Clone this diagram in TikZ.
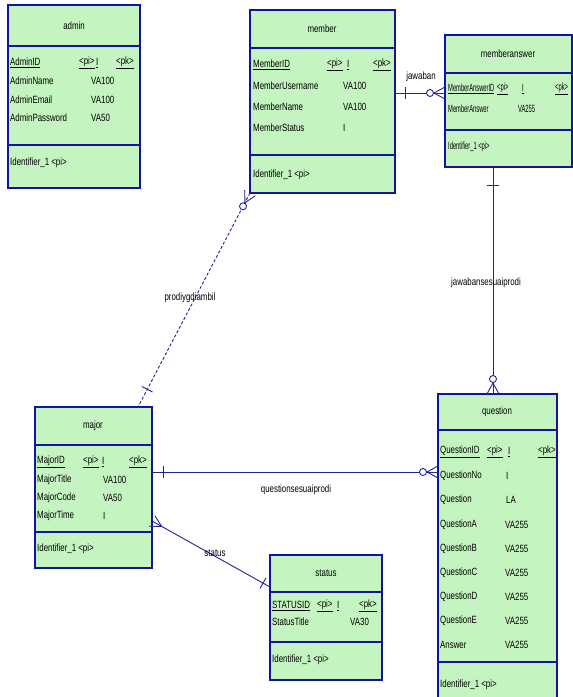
\documentclass[tikz,border=0pt]{standalone}
\usepackage{fontspec}
\setmainfont{Liberation Sans}[FakeStretch=0.75]
\newfontfamily\narrowfont{Liberation Sans}[FakeStretch=0.55]
\usetikzlibrary{calc}
\definecolor{entfill}{RGB}{196,245,192}
\definecolor{entdraw}{RGB}{20,20,160}
\definecolor{relcol}{RGB}{35,35,150}
\tikzset{
 ent/.style={draw=entdraw, fill=entfill, line width=1.2pt, anchor=north west, inner sep=0pt, outer sep=0pt},
 entline/.style={draw=entdraw, line width=1.2pt},
 txt/.style={anchor=west, inner sep=0pt, font=\fontsize{10.5}{12}\selectfont},
 ntxt/.style={anchor=west, inner sep=0pt, font=\narrowfont\fontsize{10.5}{12}\selectfont},
 ttl/.style={inner sep=0pt, font=\fontsize{10.5}{12}\selectfont},
 rel/.style={draw=relcol, line width=0.9pt},
 dashrel/.style={rel, dash pattern=on 3pt off 2pt},
 lbl/.style={inner sep=0pt, font=\fontsize{10.5}{12}\selectfont},
}
\newcommand{\mycrow}[2]{%
 \draw[rel] ($(#1)!11pt!(#2)$) -- ($(#1)!6pt!90:(#2)$);
 \draw[rel] ($(#1)!11pt!(#2)$) -- ($(#1)!6pt!-90:(#2)$);}
\newcommand{\mycrowo}[2]{\mycrow{#1}{#2}\draw[rel, fill=white] ($(#1)!15pt!(#2)$) circle (3.5pt);}
\newcommand{\mybarmark}[3]{\draw[rel] ($(#1)!#3pt!(#2)!6pt!90:(#2)$) -- ($(#1)!#3pt!(#2)!6pt!-90:(#2)$);}
\newcommand{\pk}{\underline{<pk>}}
\newcommand{\pii}{\underline{<pi>}}
\begin{document}
\begin{tikzpicture}[x=1pt,y=-1pt]
\useasboundingbox (0,0) rectangle (573,697);
\fill[white] (0,0) rectangle (573,697);

% ---------- admin ----------
\node[ent, minimum width=132, minimum height=183] (admin) at (8,5) {};
\draw[entline] (admin.west |- 0,46) -- (admin.east |- 0,46);
\draw[entline] (admin.west |- 0,145) -- (admin.east |- 0,145);
\node[ttl] (admint) at (74,26) {admin};
\node[txt] (admin1a) at (10,63) {\underline{AdminID}};
\node[txt] (admin1b) at (79,63) {\pii};
\node[txt] (admin1c) at (96,63) {\underline{I}};
\node[txt] (admin1d) at (116,63) {\pk};
\node[txt] (admin2a) at (10,81) {AdminName};
\node[txt] (admin2b) at (91,81) {VA100};
\node[txt] (admin3a) at (10,100) {AdminEmail};
\node[txt] (admin3b) at (91,100) {VA100};
\node[txt] (admin4a) at (10,118) {AdminPassword};
\node[txt] (admin4b) at (91,118) {VA50};
\node[txt] (admini) at (10,163) {Identifier\_1 <pi>};

% ---------- member ----------
\node[ent, minimum width=145, minimum height=183] (member) at (250,10) {};
\draw[entline] (member.west |- 0,48) -- (member.east |- 0,48);
\draw[entline] (member.west |- 0,155) -- (member.east |- 0,155);
\node[ttl] (membert) at (322,29) {member};
\node[txt] (member1a) at (253,65) {\underline{MemberID}};
\node[txt] (member1b) at (327,65) {\pii};
\node[txt] (member1c) at (347,65) {\underline{I}};
\node[txt] (member1d) at (373,65) {\pk};
\node[txt] (member2a) at (253,86) {MemberUsername};
\node[txt] (member2b) at (343,86) {VA100};
\node[txt] (member3a) at (253,107) {MemberName};
\node[txt] (member3b) at (343,107) {VA100};
\node[txt] (member4a) at (253,128) {MemberStatus};
\node[txt] (member4b) at (343,128) {I};
\node[txt] (memberi) at (253,175) {Identifier\_1 <pi>};

% ---------- memberanswer ----------
\node[ent, minimum width=127, minimum height=132] (memberanswer) at (445,35) {};
\draw[entline] (memberanswer.west |- 0,73) -- (memberanswer.east |- 0,73);
\draw[entline] (memberanswer.west |- 0,130) -- (memberanswer.east |- 0,130);
\node[ttl] (mat) at (508,54) {memberanswer};
\node[ntxt] (ma1a) at (448,89) {\underline{MemberAnswerID}};
\node[ntxt] (ma1b) at (497,89) {\pii};
\node[ntxt] (ma1c) at (522,89) {\underline{I}};
\node[ntxt] (ma1d) at (555,89) {\pk};
\node[ntxt] (ma2a) at (448,109) {MemberAnswer};
\node[ntxt] (ma2b) at (518,109) {VA255};
\node[ntxt] (mai) at (448,147) {Identifier\_1 <pi>};

% ---------- major ----------
\node[ent, minimum width=117, minimum height=161] (major) at (35,407) {};
\draw[entline] (major.west |- 0,445) -- (major.east |- 0,445);
\draw[entline] (major.west |- 0,532) -- (major.east |- 0,532);
\node[ttl] (majort) at (93,426) {major};
\node[txt] (major1a) at (37,462) {\underline{MajorID}};
\node[txt] (major1b) at (83,462) {\pii};
\node[txt] (major1c) at (102,462) {\underline{I}};
\node[txt] (major1d) at (129,462) {\pk};
\node[txt] (major2a) at (37,480) {MajorTitle};
\node[txt] (major2b) at (103,480) {VA100};
\node[txt] (major3a) at (37,498) {MajorCode};
\node[txt] (major3b) at (103,498) {VA50};
\node[txt] (major4a) at (37,516) {MajorTime};
\node[txt] (major4b) at (103,516) {I};
\node[txt] (majori) at (37,549) {Identifier\_1 <pi>};

% ---------- question ----------
\node[ent, minimum width=119, minimum height=316] (question) at (438,394) {};
\draw[entline] (question.west |- 0,430) -- (question.east |- 0,430);
\draw[entline] (question.west |- 0,662) -- (question.east |- 0,662);
\node[ttl] (questiont) at (497,412) {question};
\node[txt] (q1a) at (440,452) {\underline{QuestionID}};
\node[txt] (q1b) at (487,452) {\pii};
\node[txt] (q1c) at (508,452) {\underline{I}};
\node[txt] (q1d) at (538,452) {\pk};
\node[txt] (q2a) at (440,476) {QuestionNo};
\node[txt] (q2b) at (506,476) {I};
\node[txt] (q3a) at (440,500) {Question};
\node[txt] (q3b) at (506,500) {LA};
\node[txt] (q4a) at (440,524.5) {QuestionA};
\node[txt] (q4b) at (505,524.5) {VA255};
\node[txt] (q5a) at (440,548.5) {QuestionB};
\node[txt] (q5b) at (505,548.5) {VA255};
\node[txt] (q6a) at (440,572.5) {QuestionC};
\node[txt] (q6b) at (505,572.5) {VA255};
\node[txt] (q7a) at (440,596.5) {QuestionD};
\node[txt] (q7b) at (505,596.5) {VA255};
\node[txt] (q8a) at (440,621) {QuestionE};
\node[txt] (q8b) at (505,621) {VA255};
\node[txt] (q9a) at (440,645) {Answer};
\node[txt] (q9b) at (505,645) {VA255};
\node[txt] (qi) at (440,685) {Identifier\_1 <pi>};

% ---------- status ----------
\node[ent, minimum width=112, minimum height=125] (status) at (270,555) {};
\draw[entline] (status.west |- 0,592) -- (status.east |- 0,592);
\draw[entline] (status.west |- 0,642) -- (status.east |- 0,642);
\node[ttl] (statust) at (326,573) {status};
\node[txt] (s1a) at (272,606) {\underline{STATUSID}};
\node[txt] (s1b) at (317,606) {\pii};
\node[txt] (s1c) at (337,606) {\underline{I}};
\node[txt] (s1d) at (359,606) {\pk};
\node[txt] (s2a) at (272,622) {StatusTitle};
\node[txt] (s2b) at (350,622) {VA30};
\node[txt] (si) at (272,660) {Identifier\_1 <pi>};

% ---------- relationships ----------
% jawaban
\draw[rel] (member.east |- 0,93) coordinate (ja) -- (memberanswer.west |- 0,93) coordinate (jb);
\mycrowo{jb}{ja}
\mybarmark{ja}{jb}{10}
\node[lbl] (ljawaban) at (421,77) {jawaban};

% jawabansesuaiprodi
\draw[rel] (memberanswer.south -| 493,0) coordinate (ka) -- (question.north -| 493,0) coordinate (kb);
\mycrowo{kb}{ka}
\mybarmark{ka}{kb}{18}
\node[lbl] (ljsp) at (486,283) {jawabansesuaiprodi};

% prodiygdiambil
\draw[dashrel] (member.south west) coordinate (pa) -- (major.north -| 138,0) coordinate (pb);
\mycrowo{pa}{pb}
\mybarmark{pb}{pa}{20}
\node[lbl] (lpyd) at (190,298) {prodiygdiambil};

% questionsesuaiprodi
\draw[rel] (major.east |- 0,472) coordinate (qa) -- (question.west |- 0,472) coordinate (qb);
\mycrowo{qb}{qa}
\mybarmark{qa}{qb}{11}
\node[lbl] (lqsp) at (296,490) {questionsesuaiprodi};

% status
\draw[rel] (major.east |- 0,521) coordinate (sa) -- (status.west |- 0,587) coordinate (sb);
\mycrow{sa}{sb}
\mybarmark{sb}{sa}{8}
\node[lbl] (lstatus) at (215,553) {status};
\end{tikzpicture}
\end{document}
